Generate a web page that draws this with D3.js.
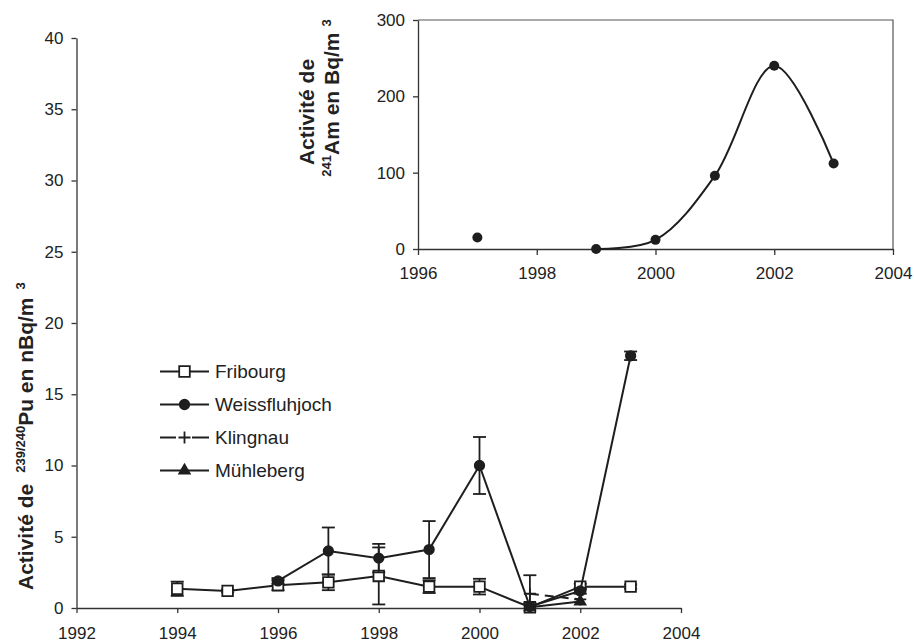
<!DOCTYPE html>
<html>
<head>
<meta charset="utf-8">
<script src="https://cdn.jsdelivr.net/npm/d3@7"></script>
<style>
  body { margin: 0; background: #fff; }
  text { font-family: Arial, "Liberation Sans", sans-serif; fill: #222; }
</style>
</head>
<body>
<script>
// ---- 239/240Pu activity per station (nBq/m3) ----
const years = [1994, 1995, 1996, 1997, 1998, 1999, 2000, 2001, 2002, 2003];
const fribourg = [1.35, 1.2, 1.6, 1.8, 2.25, 1.5, 1.5, 0.05, 1.5, 1.5];
const fribourgErr = [0.5, 0.1, 0.35, 0.55, 2.0, 0.45, 0.55, 0.3, 0.2, 0.15];
const weissfluhjoch = [null, null, 1.9, 4.0, 3.5, 4.1, 10.0, 0.1, 1.2, 17.7];
const weissfluhjochErr = [null, null, 0.2, 1.65, 1.0, 2.0, 2.0, 2.2, 0.2, 0.3];
const klingnau = [null, null, null, null, null, null, null, 1.0, 0.6, null];
const muhleberg = [null, null, null, null, null, null, null, 0.05, 0.45, null];
const stationNames = ["Fribourg", "Weissfluhjoch", "Klingnau", "Mühleberg"];
const puTicks = [0, 5, 10, 15, 20, 25, 30, 35, 40];
const yearTicks = [1992, 1994, 1996, 1998, 2000, 2002, 2004];

// ---- 241Am activity (inset, Bq/m3) ----
const amYears = [1997, 1998, 1999, 2000, 2001, 2002, 2003];
const amValues = [15, null, 0, 12, 96, 240, 112];
const amTicks = [0, 100, 200, 300];
const amYearTicks = [1996, 1998, 2000, 2002, 2004];

const ink = "#1e1e1e";
const axisInk = "#333";

const svg = d3.select("body").append("svg")
  .attr("width", 914).attr("height", 644);

// ================= main chart =================
const x = d3.scaleLinear().domain([1992, 2004]).range([76.5, 681]);
const y = d3.scaleLinear().domain([0, 40]).range([608, 38]);

function styleAxis(g, size) {
  g.select(".domain").attr("stroke", axisInk).attr("stroke-width", 1.3);
  g.selectAll(".tick line").attr("stroke", axisInk).attr("stroke-width", 1.3);
  g.selectAll(".tick text").attr("font-size", size).attr("fill", "#222");
}

svg.append("g").attr("transform", "translate(76.5,0)")
  .call(d3.axisLeft(y).tickValues(puTicks).tickSize(5).tickPadding(8).tickSizeOuter(0))
  .call(g => styleAxis(g, 17));

svg.append("g").attr("transform", "translate(0,608)")
  .call(d3.axisBottom(x).tickValues(yearTicks).tickFormat(d3.format("d"))
    .tickSize(5).tickPadding(14).tickSizeOuter(0))
  .call(g => styleAxis(g, 17));

// y-axis title with isotope superscripts
const yTitle = svg.append("text")
  .attr("transform", "translate(33,590) rotate(-90)")
  .attr("font-size", 21).attr("font-weight", "bold");
yTitle.append("tspan").text("Activité de");
yTitle.append("tspan").attr("dx", 11).attr("dy", -8).attr("font-size", 13).text("239/240");
yTitle.append("tspan").attr("dy", 8).text("Pu en nBq/m");
yTitle.append("tspan").attr("dx", 8).attr("dy", -8).attr("font-size", 13).text("3");

function rows(vals, errs) {
  return years.map((yr, i) => ({ yr, v: vals[i], e: errs ? errs[i] : null }))
    .filter(d => d.v !== null);
}

const series = [
  { name: stationNames[0], data: rows(fribourg, fribourgErr), marker: "square", dash: null },
  { name: stationNames[1], data: rows(weissfluhjoch, weissfluhjochErr), marker: "circle", dash: null },
  { name: stationNames[2], data: rows(klingnau, null), marker: "plus", dash: "9,6" },
  { name: stationNames[3], data: rows(muhleberg, null), marker: "triangle", dash: null }
];

const squareSym = d3.symbol().type(d3.symbolSquare).size(112);
const circleSym = d3.symbol().type(d3.symbolCircle).size(100);
const triSym = d3.symbol().type(d3.symbolTriangle).size(80);

function drawMarker(g, kind, cx, cy) {
  const t = `translate(${cx},${cy})`;
  if (kind === "square") {
    g.append("path").attr("d", squareSym()).attr("transform", t)
      .attr("fill", "#fff").attr("stroke", ink).attr("stroke-width", 1.8);
  } else if (kind === "circle") {
    g.append("path").attr("d", circleSym()).attr("transform", t).attr("fill", ink);
  } else if (kind === "triangle") {
    g.append("path").attr("d", triSym()).attr("transform", t).attr("fill", ink);
  } else if (kind === "plus") {
    g.append("path").attr("d", "M-6,0H6M0,-6V6").attr("transform", t)
      .attr("stroke", ink).attr("stroke-width", 1.8);
  }
}

const line = d3.line().x(d => x(d.yr)).y(d => y(d.v));
const plot = svg.append("g");

series.forEach(s => {
  const g = plot.append("g");
  g.append("path").datum(s.data).attr("d", line)
    .attr("fill", "none").attr("stroke", ink).attr("stroke-width", 2)
    .attr("stroke-dasharray", s.dash);
  // error bars, cut at the x axis
  s.data.filter(d => d.e).forEach(d => {
    const cx = x(d.yr);
    const lo = Math.max(0, d.v - d.e), hi = d.v + d.e;
    g.append("line").attr("x1", cx).attr("x2", cx)
      .attr("y1", y(lo)).attr("y2", y(hi))
      .attr("stroke", ink).attr("stroke-width", 1.8);
    g.append("line").attr("x1", cx - 6.5).attr("x2", cx + 6.5)
      .attr("y1", y(hi)).attr("y2", y(hi)).attr("stroke", ink).attr("stroke-width", 1.8);
    if (d.v - d.e > 0) {
      g.append("line").attr("x1", cx - 6.5).attr("x2", cx + 6.5)
        .attr("y1", y(lo)).attr("y2", y(lo)).attr("stroke", ink).attr("stroke-width", 1.8);
    }
  });
  s.data.forEach(d => drawMarker(g, s.marker, x(d.yr), y(d.v)));
});

// legend
const legend = svg.append("g");
series.forEach((s, i) => {
  const ly = 371.5 + i * 33;
  const g = legend.append("g");
  if (s.dash) {
    g.append("line").attr("x1", 160).attr("x2", 176).attr("y1", ly).attr("y2", ly)
      .attr("stroke", ink).attr("stroke-width", 2);
    g.append("line").attr("x1", 192).attr("x2", 209).attr("y1", ly).attr("y2", ly)
      .attr("stroke", ink).attr("stroke-width", 2);
  } else {
    g.append("line").attr("x1", 160).attr("x2", 209).attr("y1", ly).attr("y2", ly)
      .attr("stroke", ink).attr("stroke-width", 2);
  }
  drawMarker(g, s.marker, 184.5, ly);
  g.append("text").attr("x", 215).attr("y", ly).attr("dy", "0.36em")
    .attr("font-size", 19).text(s.name);
});

// ================= inset: 241Am =================
const ix = d3.scaleLinear().domain([1996, 2004]).range([418, 893]);
const iy = d3.scaleLinear().domain([0, 300]).range([249, 20]);

// plot-area frame (top and right edges)
svg.append("path")
  .attr("d", `M${ix(1996)},${iy(300)}H${ix(2004)}V${iy(0)}`)
  .attr("fill", "none").attr("stroke", "#555").attr("stroke-width", 1.2);

svg.append("g").attr("transform", "translate(418,0)")
  .call(d3.axisLeft(iy).tickValues(amTicks).tickSize(5).tickPadding(8).tickSizeOuter(0))
  .call(g => styleAxis(g, 17));

svg.append("g").attr("transform", "translate(0,249)")
  .call(d3.axisBottom(ix).tickValues(amYearTicks).tickFormat(d3.format("d"))
    .tickSize(6).tickPadding(12).tickSizeOuter(0))
  .call(g => styleAxis(g, 17));

const amData = amYears.map((yr, i) => ({ yr, v: amValues[i] }));
const amLine = d3.line()
  .defined(d => d.v !== null)
  .x(d => ix(d.yr)).y(d => iy(d.v))
  .curve(d3.curveCatmullRom.alpha(0.5));

svg.append("path").datum(amData).attr("d", amLine)
  .attr("fill", "none").attr("stroke", ink).attr("stroke-width", 2);

svg.append("g").selectAll("circle")
  .data(amData.filter(d => d.v !== null))
  .join("circle")
  .attr("cx", d => ix(d.yr)).attr("cy", d => iy(d.v))
  .attr("r", 5).attr("fill", ink);

// inset y-axis title on two lines
svg.append("text")
  .attr("transform", "translate(314,112) rotate(-90)")
  .attr("text-anchor", "middle")
  .attr("font-size", 21).attr("font-weight", "bold")
  .text("Activité de");

const amTitle = svg.append("text")
  .attr("transform", "translate(339,98) rotate(-90)")
  .attr("text-anchor", "middle")
  .attr("font-size", 21).attr("font-weight", "bold");
amTitle.append("tspan").attr("dy", -8).attr("font-size", 13).text("241");
amTitle.append("tspan").attr("dy", 8).text("Am en Bq/m");
amTitle.append("tspan").attr("dx", 6).attr("dy", -8).attr("font-size", 13).text("3");
</script>
</body>
</html>
